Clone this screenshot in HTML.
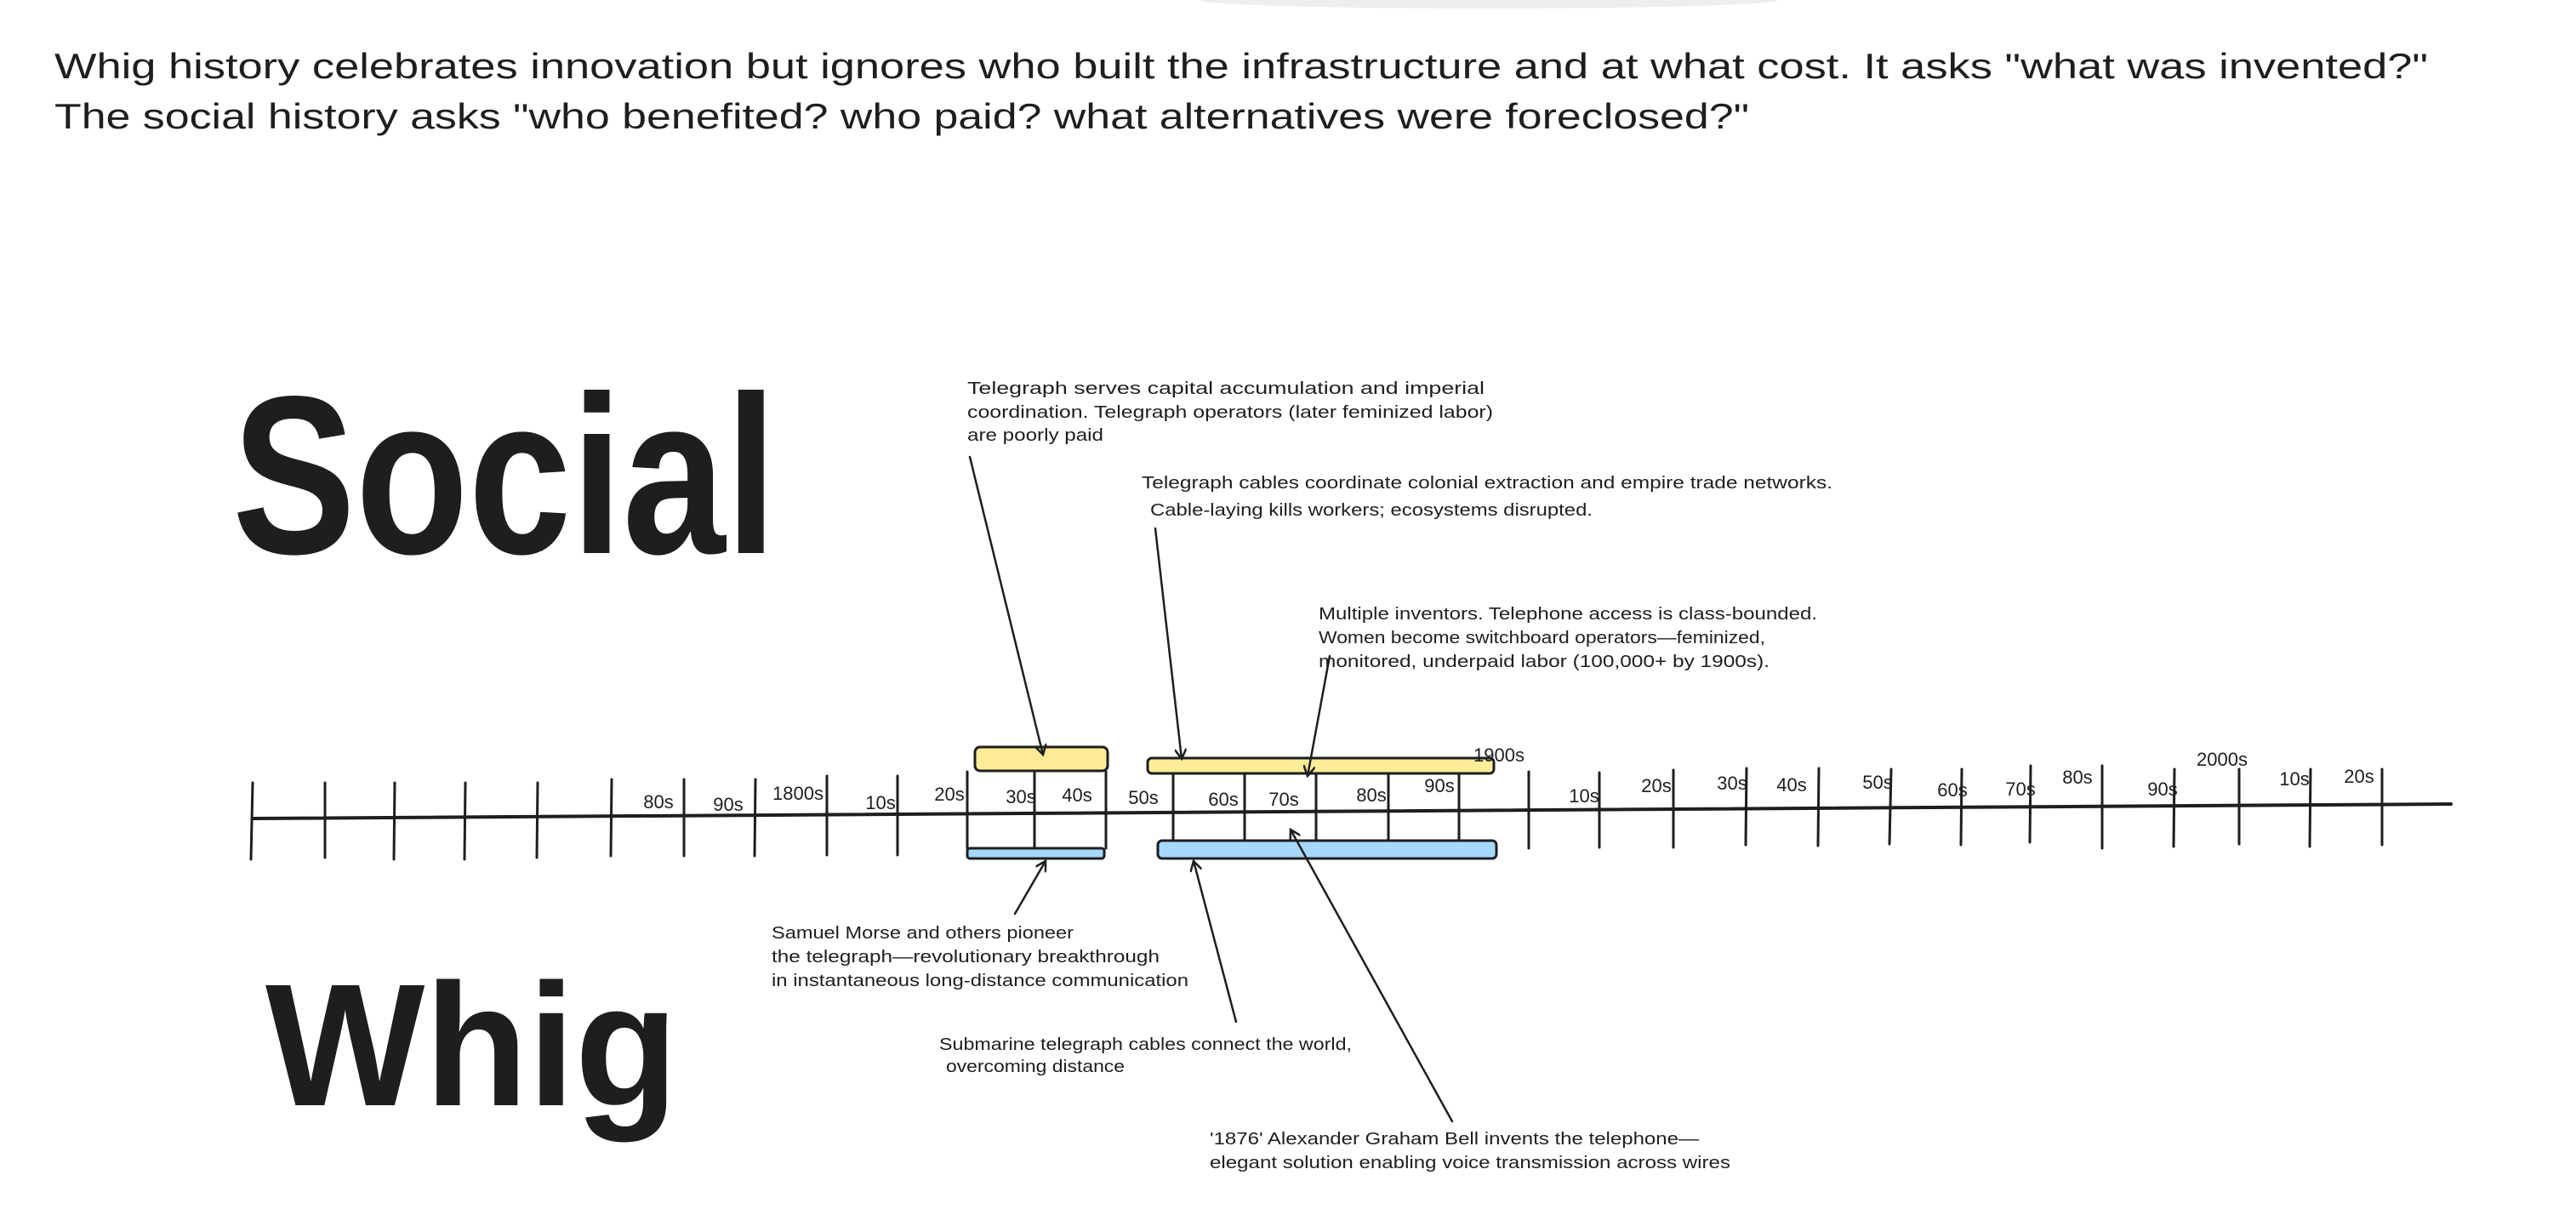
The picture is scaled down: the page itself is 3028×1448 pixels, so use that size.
<!DOCTYPE html>
<html><head><meta charset="utf-8"><style>
html,body{margin:0;padding:0;background:#fff;}
svg{display:block;}
text{font-family:"Liberation Sans",sans-serif;fill:#1e1e1e;}
.s{font-size:20px;}
.t{font-size:22px;}
</style></head><body>
<svg width="3028" height="1448" viewBox="0 0 3028 1448" xmlns="http://www.w3.org/2000/svg">
<defs><marker id="ah" markerWidth="14" markerHeight="14" refX="12" refY="7" orient="auto" markerUnits="userSpaceOnUse"><path d="M0,0 L12,7 L0,14" fill="none" stroke="#1e1e1e" stroke-width="2.5"/></marker></defs>
<ellipse cx="1750" cy="0" rx="340" ry="10" fill="#eee"/>
<text x="64" y="92" style="font-size:42px" textLength="2790" lengthAdjust="spacingAndGlyphs">Whig history celebrates innovation but ignores who built the infrastructure and at what cost.  It asks "what was invented?"</text>
<text x="64" y="151" style="font-size:42px" textLength="1992" lengthAdjust="spacingAndGlyphs">The social history asks "who benefited? who paid? what alternatives were foreclosed?"</text>
<text x="273" y="650" style="font-size:265px;font-weight:bold" textLength="640" lengthAdjust="spacingAndGlyphs">Social</text>
<text x="312" y="1299" style="font-size:205px;font-weight:bold" textLength="485" lengthAdjust="spacingAndGlyphs">Whig</text>
<g stroke="#1e1e1e" stroke-width="3" fill="none" stroke-linecap="round">
<line x1="297" y1="962" x2="2881" y2="945" stroke-width="4"/>
<g>
<line x1="297" y1="920" x2="295" y2="1010"/><line x1="382" y1="920" x2="382" y2="1008"/><line x1="464" y1="920" x2="463" y2="1010"/><line x1="547" y1="920" x2="546" y2="1010"/><line x1="632" y1="920" x2="631" y2="1008"/><line x1="719" y1="916" x2="718" y2="1006"/><line x1="804" y1="916" x2="804" y2="1006"/><line x1="888" y1="916" x2="887" y2="1006"/><line x1="972" y1="912" x2="972" y2="1005"/><line x1="1055" y1="912" x2="1055" y2="1005"/>
<line x1="1137" y1="907" x2="1137" y2="997"/><line x1="1216" y1="907" x2="1216" y2="997"/><line x1="1300" y1="907" x2="1300" y2="997"/>
<line x1="1379" y1="909" x2="1379" y2="988"/><line x1="1463" y1="909" x2="1463" y2="988"/><line x1="1547" y1="909" x2="1547" y2="988"/><line x1="1632" y1="909" x2="1632" y2="988"/><line x1="1715" y1="909" x2="1715" y2="988"/>
<line x1="1797" y1="907" x2="1797" y2="997"/><line x1="1880" y1="908" x2="1880" y2="996"/><line x1="1967" y1="905" x2="1967" y2="996"/><line x1="2053" y1="903" x2="2052" y2="993"/><line x1="2138" y1="903" x2="2137" y2="994"/><line x1="2223" y1="904" x2="2221" y2="992"/><line x1="2306" y1="904" x2="2305" y2="993"/><line x1="2387" y1="900" x2="2386" y2="990"/><line x1="2471" y1="900" x2="2471" y2="997"/><line x1="2556" y1="904" x2="2555" y2="995"/><line x1="2632" y1="904" x2="2632" y2="992"/><line x1="2716" y1="904" x2="2715" y2="995"/><line x1="2800" y1="904" x2="2800" y2="993"/>
</g>
<rect x="1146" y="878" width="156" height="28" rx="6" fill="#ffec99"/>
<rect x="1349" y="891" width="407" height="18" rx="5" fill="#ffec99"/>
<rect x="1137" y="997" width="161" height="12" rx="3" fill="#a5d8ff"/>
<rect x="1361" y="988" width="398" height="21" rx="5" fill="#a5d8ff"/>
<line x1="1140" y1="537" x2="1226" y2="887" stroke-width="2.5" marker-end="url(#ah)"/>
<line x1="1358" y1="621" x2="1389" y2="892" stroke-width="2.5" marker-end="url(#ah)"/>
<line x1="1563" y1="771" x2="1537" y2="912" stroke-width="2.5" marker-end="url(#ah)"/>
<line x1="1193" y1="1074" x2="1229" y2="1012" stroke-width="2.5" marker-end="url(#ah)"/>
<line x1="1453" y1="1201" x2="1403" y2="1012" stroke-width="2.5" marker-end="url(#ah)"/>
<line x1="1707" y1="1318" x2="1517" y2="975" stroke-width="2.5" marker-end="url(#ah)"/>
</g>
<g class="t" text-anchor="middle">
<text x="774" y="950">80s</text><text x="856" y="953">90s</text><text x="938" y="940">1800s</text><text x="1035" y="951">10s</text><text x="1116" y="941">20s</text><text x="1200" y="944">30s</text><text x="1266" y="942">40s</text><text x="1344" y="945">50s</text><text x="1438" y="947">60s</text><text x="1509" y="947">70s</text><text x="1612" y="942">80s</text><text x="1692" y="931">90s</text><text x="1762" y="895">1900s</text><text x="1862" y="943">10s</text>
<text x="1947" y="931">20s</text><text x="2036" y="928">30s</text><text x="2106" y="930">40s</text><text x="2207" y="927">50s</text><text x="2295" y="936">60s</text><text x="2375" y="935">70s</text><text x="2442" y="921">80s</text><text x="2542" y="935">90s</text><text x="2612" y="900">2000s</text><text x="2697" y="923">10s</text><text x="2773" y="920">20s</text>
</g>
<g class="s">
<text x="1137" y="463" textLength="608" lengthAdjust="spacingAndGlyphs">Telegraph serves capital accumulation and imperial</text>
<text x="1137" y="491" textLength="618" lengthAdjust="spacingAndGlyphs">coordination. Telegraph operators (later feminized labor)</text>
<text x="1137" y="518" textLength="160" lengthAdjust="spacingAndGlyphs">are poorly paid</text>
<text x="1342" y="574" textLength="812" lengthAdjust="spacingAndGlyphs">Telegraph cables coordinate colonial extraction and empire trade networks.</text>
<text x="1352" y="606" textLength="520" lengthAdjust="spacingAndGlyphs">Cable-laying kills workers; ecosystems disrupted.</text>
<text x="1550" y="728" textLength="586" lengthAdjust="spacingAndGlyphs">Multiple inventors. Telephone access is class-bounded.</text>
<text x="1550" y="756" textLength="525" lengthAdjust="spacingAndGlyphs">Women become switchboard operators—feminized,</text>
<text x="1550" y="784" textLength="530" lengthAdjust="spacingAndGlyphs">monitored, underpaid labor (100,000+ by 1900s).</text>
<text x="907" y="1103" textLength="355" lengthAdjust="spacingAndGlyphs">Samuel Morse and others pioneer</text>
<text x="907" y="1131" textLength="456" lengthAdjust="spacingAndGlyphs">the telegraph—revolutionary breakthrough</text>
<text x="907" y="1159" textLength="490" lengthAdjust="spacingAndGlyphs">in instantaneous long-distance communication</text>
<text x="1104" y="1234" textLength="485" lengthAdjust="spacingAndGlyphs">Submarine telegraph cables connect the world,</text>
<text x="1112" y="1260" textLength="210" lengthAdjust="spacingAndGlyphs">overcoming distance</text>
<text x="1422" y="1345" textLength="575" lengthAdjust="spacingAndGlyphs">'1876' Alexander Graham Bell invents the telephone—</text>
<text x="1422" y="1373" textLength="612" lengthAdjust="spacingAndGlyphs">elegant solution enabling voice transmission across wires</text>
</g>
</svg>
</body></html>
